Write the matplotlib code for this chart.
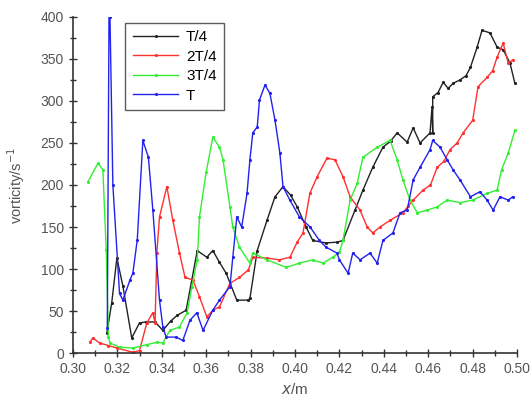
import numpy as np
import matplotlib.pyplot as plt
from matplotlib.ticker import MultipleLocator

plt.rcParams['font.family'] = ['Liberation Sans', 'DejaVu Sans']

# T/4 (black)
x_t1 = [0.3153, 0.3175, 0.3198, 0.3225, 0.3265, 0.330, 0.333, 0.337, 0.3405, 0.344, 0.347, 0.351,
        0.356, 0.3603, 0.363, 0.366, 0.369, 0.3738, 0.379, 0.3797, 0.383, 0.3874, 0.391, 0.3946,
        0.398, 0.401, 0.405, 0.408, 0.414, 0.419, 0.4216, 0.427, 0.4306, 0.435, 0.4396, 0.443, 0.446,
        0.4505, 0.4532, 0.4563, 0.4608, 0.4617, 0.462, 0.462, 0.4644, 0.4667, 0.469, 0.4712, 0.4743,
        0.477, 0.479, 0.482, 0.4842, 0.4878, 0.491, 0.4937, 0.4968, 0.499]
y_t1 = [24, 60, 113, 80, 18, 36, 37, 37, 27, 38, 45, 51,
        122, 114, 122, 108, 95, 63, 63, 65, 122, 158, 186, 198,
        188, 174, 150, 134, 131, 132, 134, 170, 194, 221, 245, 252, 262,
        251, 268, 250, 262, 293, 262, 305, 310, 322, 315, 321, 325,
        330, 340, 364, 384, 381, 364, 361, 345, 321]

# 2T/4 (red)
x_t2 = [0.3077, 0.309, 0.312, 0.316, 0.3198, 0.327, 0.330, 0.3333, 0.336, 0.337, 0.3378, 0.339, 0.3423,
        0.345, 0.348, 0.3505, 0.354, 0.357, 0.3603, 0.363, 0.366, 0.3707, 0.375, 0.379, 0.381,
        0.3874, 0.393, 0.3977, 0.401, 0.4036, 0.4067, 0.41, 0.4144, 0.418, 0.4216, 0.4248, 0.4293,
        0.4325, 0.435, 0.4383, 0.4428, 0.4486, 0.451, 0.4532, 0.4577, 0.461, 0.464, 0.467, 0.4698,
        0.473, 0.4757, 0.480, 0.4824, 0.4865, 0.489, 0.491, 0.4937, 0.496, 0.4982]
y_t2 = [13, 18, 12, 9, 6, 1, 3, 36, 48, 36, 119, 162, 198,
        158, 119, 90, 87, 67, 43, 51, 55, 83, 90, 99, 114,
        113, 111, 114, 132, 143, 190, 210, 232, 230, 210, 186, 170,
        150, 143, 150, 158, 167, 175, 182, 194, 200, 221, 228, 242,
        250, 262, 277, 317, 328, 336, 352, 369, 345, 349]

# 3T/4 (green)
x_t3 = [0.3068, 0.3113, 0.3135, 0.315, 0.316, 0.3167, 0.321, 0.327, 0.3333, 0.3378, 0.3405, 0.3437,
        0.348, 0.3514, 0.3536, 0.356, 0.357, 0.360, 0.363, 0.366, 0.3676, 0.3707, 0.372, 0.375,
        0.3797, 0.381, 0.3874, 0.396, 0.402, 0.408, 0.4126, 0.417, 0.420, 0.4216, 0.4248, 0.428,
        0.4306, 0.437, 0.4428, 0.446, 0.4486, 0.4518, 0.455, 0.4595, 0.464, 0.4685, 0.4743, 0.480,
        0.4865, 0.491, 0.493, 0.496, 0.499]
y_t3 = [204, 226, 218, 123, 19, 12, 7, 6, 10, 13, 12, 27,
        31, 48, 79, 111, 162, 215, 257, 245, 230, 174, 150, 126,
        107, 119, 111, 102, 107, 111, 107, 114, 120, 134, 182, 202,
        233, 245, 253, 230, 206, 182, 167, 170, 174, 182, 179, 182,
        190, 194, 218, 238, 265]

# T (blue)
x_t4 = [0.3155, 0.3163, 0.3167, 0.318, 0.321, 0.3225, 0.3257, 0.327, 0.329, 0.3315, 0.334, 0.336,
        0.339, 0.3405, 0.342, 0.3465, 0.3495, 0.3527, 0.3558, 0.3586, 0.363, 0.366, 0.3707, 0.372,
        0.3738, 0.376, 0.3784, 0.3797, 0.381, 0.383, 0.384, 0.3865, 0.3887, 0.391, 0.3932, 0.3946,
        0.3977, 0.402, 0.4068, 0.411, 0.414, 0.4189, 0.420, 0.4239, 0.426, 0.4293, 0.4338, 0.437,
        0.4396, 0.4441, 0.4473, 0.4505, 0.4532, 0.4563, 0.4608, 0.462, 0.4653, 0.4685, 0.4712,
        0.4743, 0.479, 0.4833, 0.4865, 0.4892, 0.4923, 0.496, 0.498]
y_t4 = [30, 420, 400, 200, 71, 63, 87, 95, 135, 253, 233, 170,
        63, 31, 19, 19, 15, 39, 48, 27, 51, 63, 79, 114,
        162, 150, 190, 230, 262, 269, 301, 319, 309, 277, 238, 198,
        182, 162, 150, 134, 126, 119, 111, 95, 119, 111, 119, 107,
        134, 143, 167, 170, 206, 221, 242, 253, 245, 230, 218,
        206, 186, 192, 182, 170, 186, 182, 186]

series = [
    ("T/4", x_t1, y_t1, "#222222"),
    ("2T/4", x_t2, y_t2, "#ff3030"),
    ("3T/4", x_t3, y_t3, "#33ee33"),
    ("T", x_t4, y_t4, "#2222ee"),
]

fig = plt.figure(figsize=(5.32, 4.12), dpi=100)
ax = fig.add_axes([0.137, 0.143, 0.835, 0.816])

for name, xs, ys, col in series:
    ax.plot(xs, ys, color=col, lw=1.0, marker='.', ms=2.5, label=name)

ax.set_xlim(0.30, 0.50)
ax.set_ylim(0, 400)
ax.xaxis.set_major_locator(MultipleLocator(0.02))
ax.xaxis.set_minor_locator(MultipleLocator(0.01))
ax.yaxis.set_major_locator(MultipleLocator(50))
ax.yaxis.set_minor_locator(MultipleLocator(25))
ax.xaxis.set_major_formatter(plt.FormatStrFormatter('%.2f'))

for s in ['top', 'right']:
    ax.spines[s].set_visible(False)
for s in ['left', 'bottom']:
    ax.spines[s].set_color('#333333')
    ax.spines[s].set_linewidth(1.2)

ax.tick_params(which='major', direction='inout', length=6, width=1, colors='#333333',
               labelsize=10, labelcolor='#555555')
ax.tick_params(which='minor', direction='inout', length=4, width=1, colors='#333333')

ax.set_xlabel(r"$x$/m", fontsize=11, color='#555555', labelpad=4)
ax.set_ylabel(r"vorticity/s$^{-1}$", fontsize=10.5, color='#555555', labelpad=10)

leg = ax.legend(loc='upper left', bbox_to_anchor=(0.1, 1.005), fontsize=11, frameon=True,
                fancybox=False, handlelength=3.0, handletextpad=0.5, borderpad=0.5,
                labelspacing=0.35)
leg.get_frame().set_edgecolor('#333333')
leg.get_frame().set_linewidth(1.0)

fig.savefig("out.png", dpi=100)
